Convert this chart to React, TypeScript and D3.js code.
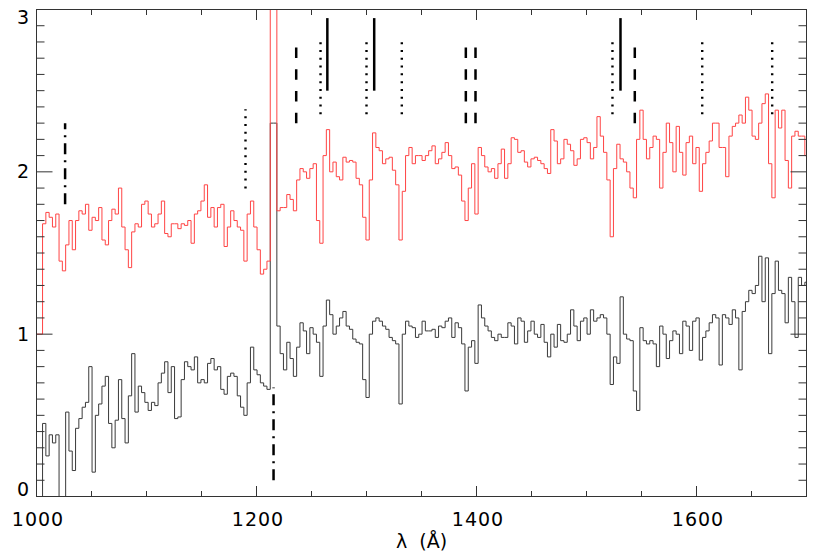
import React from "react";
import * as d3 from "d3";

// Spectra sampled on a uniform grid: bin i spans [LAMBDA_START + i*STEP, LAMBDA_START + (i+1)*STEP)
const LAMBDA_START = 999.5;
const LAMBDA_STEP = 3;

// Upper (red) spectrum, offset +1
const RED_FLUX = [
  1.0, 1.0, 1.68, 1.75, 1.72, 1.66, 1.74, 1.45, 1.39, 1.55,
  1.70, 1.52, 1.70, 1.76, 1.74, 1.80, 1.64, 1.72, 1.70, 1.78,
  1.58, 1.55, 1.70, 1.77, 1.74, 1.90, 1.66, 1.52, 1.41, 1.63,
  1.68, 1.66, 1.80, 1.82, 1.74, 1.66, 1.68, 1.74, 1.82, 1.62,
  1.60, 1.68, 1.68, 1.65, 1.68, 1.67, 1.70, 1.56, 1.74, 1.76,
  1.82, 1.92, 1.72, 1.78, 1.66, 1.78, 1.80, 1.54, 1.66, 1.76,
  1.70, 1.66, 1.64, 1.45, 1.74, 1.82, 1.66, 1.52, 1.37, 1.40,
  1.45, 3.5, 3.5, 1.76, 1.78, 1.78, 1.86, 1.83, 1.76, 1.95,
  2.02, 2.00, 1.96, 2.02, 2.05, 1.70, 1.56, 2.10, 2.26, 2.00,
  2.06, 1.97, 1.95, 2.09, 2.06, 2.07, 2.06, 1.96, 1.92, 1.72,
  1.58, 1.95, 2.24, 2.15, 2.13, 2.05, 2.08, 2.09, 2.01, 1.92,
  1.58, 1.88, 2.10, 2.15, 2.05, 2.10, 2.10, 2.07, 2.10, 2.13,
  2.16, 2.05, 2.08, 2.12, 2.18, 2.10, 2.02, 2.03, 1.98, 1.82,
  1.70, 1.90, 2.05, 1.74, 2.15, 2.10, 2.03, 2.00, 2.02, 1.96,
  2.05, 2.14, 1.96, 2.05, 2.21, 2.20, 2.12, 2.13, 2.06, 2.03,
  2.08, 2.09, 2.07, 2.05, 2.02, 1.99, 2.26, 2.19, 2.05, 2.08,
  2.20, 2.17, 2.13, 2.04, 2.08, 2.20, 2.21, 2.18, 2.08, 2.15,
  2.34, 2.22, 2.12, 1.95, 1.60, 2.02, 2.17, 2.08, 2.06, 2.00,
  1.90, 1.84, 2.20, 2.38, 2.20, 2.08, 2.15, 2.22, 2.20, 1.90,
  2.12, 2.30, 2.18, 2.00, 2.28, 2.12, 1.98, 2.18, 2.22, 2.05,
  2.15, 1.88, 2.05, 2.12, 2.19, 2.30, 2.30, 2.15, 2.15, 1.97,
  2.22, 2.28, 2.30, 2.35, 2.30, 2.46, 2.38, 2.22, 2.20, 2.30,
  2.42, 2.48, 2.05, 1.84, 2.38, 2.27, 2.38, 2.07, 1.90, 2.22,
  2.25, 2.22, 2.22, 2.10,
];

// Lower (black) spectrum
const BLACK_FLUX = [
  0.0, 0.0, 0.45, 0.25, 0.38, 0.33, 0.38, -0.1, -0.1, 0.52,
  0.28, 0.16, 0.42, 0.48, 0.55, 0.58, 0.80, 0.15, 0.50, 0.57,
  0.68, 0.74, 0.45, 0.30, 0.47, 0.72, 0.48, 0.33, 0.62, 0.88,
  0.52, 0.68, 0.64, 0.58, 0.53, 0.58, 0.56, 0.70, 0.76, 0.83,
  0.64, 0.80, 0.48, 0.49, 0.72, 0.83, 0.80, 0.78, 0.86, 0.70,
  0.72, 0.70, 0.82, 0.85, 0.78, 0.80, 0.66, 0.63, 0.74, 0.76,
  0.74, 0.62, 0.55, 0.50, 0.70, 0.92, 0.78, 0.75, 0.70, 0.68,
  0.66, 2.30, 2.30, 1.05, 0.88, 0.78, 0.95, 0.85, 0.74, 0.92,
  1.07, 1.02, 0.88, 1.04, 1.00, 0.95, 0.74, 1.05, 1.21, 1.12,
  1.00, 1.05, 1.10, 1.14, 1.05, 1.03, 0.97, 0.95, 0.94, 0.72,
  0.61, 1.00, 1.08, 1.10, 1.08, 1.05, 1.03, 0.98, 0.96, 0.94,
  0.57, 1.00, 1.08, 1.05, 1.04, 0.98, 1.00, 1.08, 1.02, 1.02,
  1.03, 0.98, 1.05, 1.04, 1.08, 1.10, 0.98, 1.07, 1.04, 0.94,
  0.65, 0.92, 0.96, 0.82, 1.18, 1.10, 1.05, 1.02, 0.98, 0.96,
  1.00, 0.98, 0.98, 1.07, 1.05, 0.94, 1.10, 1.08, 0.95, 1.02,
  1.08, 1.00, 0.98, 1.06, 0.95, 0.86, 1.00, 0.92, 1.06, 0.96,
  0.95, 1.00, 1.15, 1.05, 0.96, 1.08, 1.10, 1.00, 1.15, 1.08,
  1.10, 1.12, 1.10, 1.00, 0.69, 0.86, 0.82, 1.23, 1.00, 0.97,
  0.96, 0.65, 0.53, 1.04, 0.96, 0.94, 0.96, 0.94, 0.80, 1.05,
  1.00, 0.85, 0.96, 1.02, 1.00, 0.88, 1.08, 1.05, 0.90, 1.08,
  1.10, 0.84, 0.98, 1.02, 1.07, 1.12, 1.10, 0.81, 1.12, 1.10,
  1.06, 1.15, 1.10, 0.78, 1.14, 1.20, 1.27, 1.25, 1.30, 1.48,
  1.20, 1.47, 0.88, 1.25, 1.45, 1.27, 1.25, 1.07, 1.35, 1.20,
  0.98, 1.35, 1.30, 1.32,
];

// Line identification markers
const MARKER_LAMBDA = [1026, 1190, 1215.5, 1236.1, 1258.2, 1264.4, 1300, 1307, 1332.1, 1390.3, 1399.1, 1523.6, 1530.9, 1543.9, 1605.2, 1668.8];
const MARKER_KIND = ["dashdot", "dotted", "dashdot", "dashed", "dotted", "solid", "dotted", "solid", "dotted", "dashed", "dashed", "dotted", "solid", "dashed", "dotted", "dotted"];
const MARKER_Y0 = [1.80, 1.898, 0.10, 2.30, 2.354, 2.50, 2.354, 2.50, 2.354, 2.30, 2.30, 2.354, 2.50, 2.30, 2.354, 2.354];
const MARKER_Y1 = [2.30, 2.385, 0.672, 2.768, 2.834, 2.947, 2.834, 2.947, 2.834, 2.768, 2.768, 2.834, 2.947, 2.768, 2.834, 2.834];

const X_TICK_LABELS = [1000, 1200, 1400, 1600];
const Y_TICK_LABELS = [0, 1, 2, 3];
const X_DOMAIN = [1000, 1700];
const Y_DOMAIN = [0, 3];

const W = 830;
const H = 554;
const LEFT = 36.5;
const RIGHT = 806.5;
const TOP = 9.5;
const BOTTOM = 496.5;

const DASH: Record<string, string | undefined> = {
  solid: undefined,
  dotted: "2 5.8",
  dashed: "10.5 11.2",
  dashdot: "11 6 2 6",
};

export default function App() {
  const x = d3.scaleLinear().domain(X_DOMAIN).range([LEFT, RIGHT]);
  const y = d3.scaleLinear().domain(Y_DOMAIN).range([BOTTOM, TOP]);

  const stepPoints = (vals: number[]) => {
    const pts: [number, number][] = vals.map((v, i) => [LAMBDA_START + i * LAMBDA_STEP, v]);
    pts.push([LAMBDA_START + vals.length * LAMBDA_STEP, vals[vals.length - 1]]);
    return pts;
  };
  const line = d3
    .line<[number, number]>()
    .x((d) => x(d[0]))
    .y((d) => y(d[1]))
    .curve(d3.curveStepAfter);

  const redPath = line(stepPoints(RED_FLUX)) || "";
  const blackPath = line(stepPoints(BLACK_FLUX)) || "";

  const yMinor = d3.range(1, 30).filter((k) => k % 10 !== 0).map((k) => k / 10);
  const xMinor = d3.range(1050, 1700, 50).filter((v) => v % 200 !== 0);
  const xMajor = X_TICK_LABELS.filter((v) => v > X_DOMAIN[0]);
  const yMajor = Y_TICK_LABELS.filter((v) => v > Y_DOMAIN[0] && v < Y_DOMAIN[1]);

  const axisColor = "#333";
  const font = "DejaVu Sans, sans-serif";

  return (
    <svg
      width={W}
      height={H}
      viewBox={`0 0 ${W} ${H}`}
      style={{ position: "absolute", left: 0, top: 0, background: "#fff" }}
    >
      <defs>
        <clipPath id="plotClip">
          <rect x={LEFT} y={TOP} width={RIGHT - LEFT} height={BOTTOM - TOP} />
        </clipPath>
      </defs>
      <rect x={0} y={0} width={W} height={H} fill="#fff" />

      {/* spectra */}
      <g clipPath="url(#plotClip)">
        <path d={blackPath} fill="none" stroke="#3a3a3a" strokeWidth={1} />
        <path d={redPath} fill="none" stroke="#ff4444" strokeWidth={1} />
      </g>

      {/* markers */}
      <g>
        {MARKER_LAMBDA.map((lam, i) => {
          const kind = MARKER_KIND[i];
          const xx = x(lam);
          return (
            <line
              key={i}
              x1={xx}
              x2={xx}
              y1={y(MARKER_Y0[i])}
              y2={y(MARKER_Y1[i])}
              stroke="#000"
              strokeWidth={kind === "dotted" ? 2.4 : 2.5}
              strokeDasharray={DASH[kind]}
            />
          );
        })}
      </g>

      {/* frame */}
      <rect x={LEFT} y={TOP} width={RIGHT - LEFT} height={BOTTOM - TOP} fill="none" stroke={axisColor} strokeWidth={1} />

      {/* y ticks */}
      <g stroke={axisColor} strokeWidth={1}>
        {yMinor.map((v) => (
          <g key={"ym" + v}>
            <line x1={LEFT} x2={LEFT + 8} y1={y(v)} y2={y(v)} />
            <line x1={RIGHT} x2={RIGHT - 8} y1={y(v)} y2={y(v)} />
          </g>
        ))}
        {yMajor.map((v) => (
          <g key={"yM" + v}>
            <line x1={LEFT} x2={LEFT + 16} y1={y(v)} y2={y(v)} />
            <line x1={RIGHT} x2={RIGHT - 16} y1={y(v)} y2={y(v)} />
          </g>
        ))}
        {xMinor.map((v) => (
          <g key={"xm" + v}>
            <line x1={x(v)} x2={x(v)} y1={TOP} y2={TOP + 5.5} />
            <line x1={x(v)} x2={x(v)} y1={BOTTOM} y2={BOTTOM - 5.5} />
          </g>
        ))}
        {xMajor.map((v) => (
          <g key={"xM" + v}>
            <line x1={x(v)} x2={x(v)} y1={TOP} y2={TOP + 10.5} />
            <line x1={x(v)} x2={x(v)} y1={BOTTOM} y2={BOTTOM - 10.5} />
          </g>
        ))}
      </g>

      {/* tick labels */}
      <g fontFamily={font} fontSize={19} fill="#000">
        {Y_TICK_LABELS.map((v) => (
          <text key={"yl" + v} x={29} y={Math.min(Math.max(y(v) + 6.5, 23.5), 496)} textAnchor="end">
            {v}
          </text>
        ))}
        {X_TICK_LABELS.map((v) => (
          <text key={"xl" + v} x={x(v) + 1.5} y={526} textAnchor="middle" letterSpacing={1}>
            {v}
          </text>
        ))}
        <text x={(LEFT + RIGHT) / 2} y={548} textAnchor="middle">
          {"λ\u00a0\u00a0(Å)"}
        </text>
      </g>
    </svg>
  );
}
